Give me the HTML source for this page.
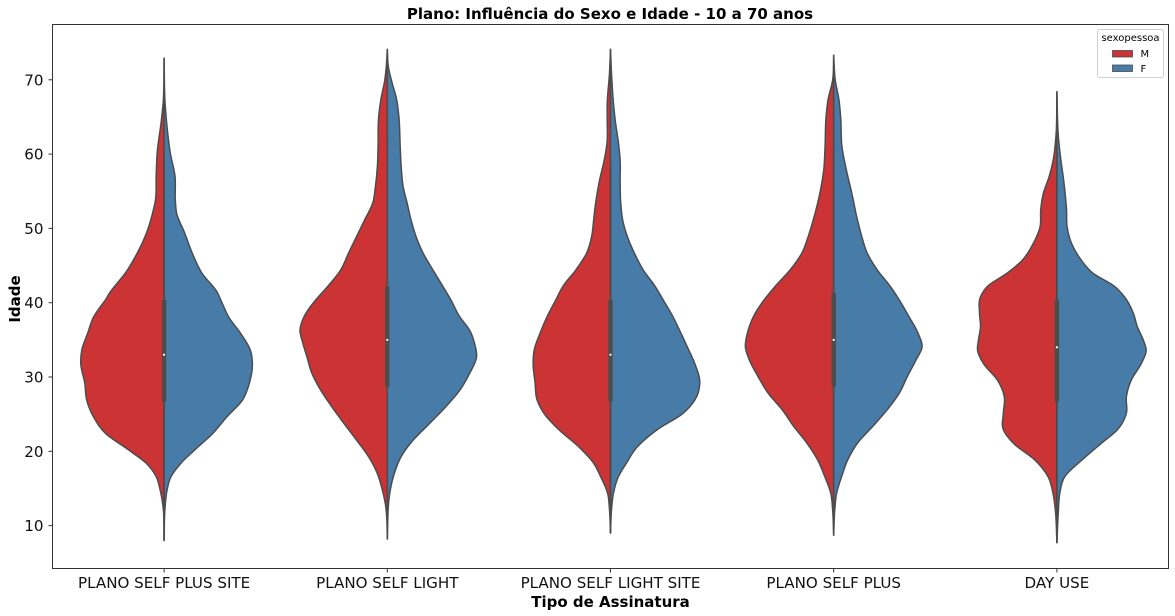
<!DOCTYPE html>
<html lang="pt">
<head>
<meta charset="utf-8">
<title>Plano: Influência do Sexo e Idade - 10 a 70 anos</title>
<style>
html,body{margin:0;padding:0;background:#fff;}
body{width:1175px;height:616px;overflow:hidden;}
svg{display:block;font-family:"DejaVu Sans","Liberation Sans",sans-serif;}
</style>
</head>
<body>
<svg id="chart" width="1175" height="616" viewBox="0 0 1175 616" xmlns="http://www.w3.org/2000/svg">
<rect x="0" y="0" width="1175" height="616" fill="#fff"/>
<g id="violins"></g>
<g id="axes"></g>
<text x="610" y="19" text-anchor="middle" font-size="15" font-weight="700" fill="#000">Plano: Influência do Sexo e Idade - 10 a 70 anos</text>
<text x="610.5" y="607" text-anchor="middle" font-size="15" font-weight="700" fill="#000">Tipo de Assinatura</text>
<text x="20" y="299" text-anchor="middle" font-size="15" font-weight="700" fill="#000" transform="rotate(-90 20 299)">Idade</text>
<g>
<rect x="1097.5" y="29.5" width="66" height="48" rx="2" fill="#fff" fill-opacity="0.8" stroke="#d0d0d0" stroke-width="1"/>
<text x="1130.5" y="41" text-anchor="middle" font-size="10" fill="#000">sexopessoa</text>
<g>
<rect x="1112.5" y="50.5" width="20" height="6.5" fill="#cb3335" stroke="#4c4c4c" stroke-width="0.8"/>
<text x="1140.5" y="57" font-size="10" fill="#000">M</text>
</g>
<g>
<rect x="1112.5" y="65" width="20" height="6.5" fill="#477ca8" stroke="#4c4c4c" stroke-width="0.8"/>
<text x="1140.5" y="72" font-size="10" fill="#000">F</text>
</g>
</g>
</svg>
<script>
const categories = ["PLANO SELF PLUS SITE", "PLANO SELF LIGHT", "PLANO SELF LIGHT SITE", "PLANO SELF PLUS", "DAY USE"];
const yTickLabels = [10, 20, 30, 40, 50, 60, 70];

const ages0 = [72.9,66.8,64.6,60.1,57,53.8,52,49.4,46.7,44,41.3,40.4,39.5,38.1,35.9,33.6,31.8,29.2,26.9,24.6,22.4,20.2,18.4,16.6,14.8,12.5,8];
const densityM0 = [0,1,2.7,7,8,8.7,11.7,17.7,27,39,55,59,64,71,77,83,84,80,78,71,59,36,18,8,4,1,0];
const densityF0 = [0,1,2.3,6.3,11,11.3,12.7,20.7,28.3,38,54,57,60,65,77,87,89,86,79,63,49,31,17,7,3,1,0];

const ages1 = [74.1,71.8,70,67.3,65,61,58.3,55.6,53.4,51.1,48.9,46.7,44.4,42.2,40.4,38.1,36.3,34.5,32.7,30.5,28.2,26,23.8,21.5,19.3,17,14.8,12.5,10.9,8.2];
const densityM1 = [0,1,2.5,6.5,8.7,9.3,10,12,14.7,23,31,39,47,60,72,84,88,85,81,76,67,56,44,31,19,10,5,1.5,0.5,0];
const densityF1 = [0,1,4,9.5,11.7,13,14,16,20,24,29,36,46,56,64,73,83,88,90,83,73,59,43,26,14,7,3,1,0.5,0];

const ages2 = [74.1,70.9,66.8,64.6,61.5,59.2,56.5,53.4,51.1,48.9,46.7,44.4,42.2,40.4,38.1,35.9,33.6,31.8,29.2,26.9,25.1,22.9,20.6,18.4,16.6,14.4,12.1,9];
const densityM2 = [0,1,3.3,3.3,3.5,6.3,11,15,17,19,24,35,48,55,64,71,77,78,76,74,67,52,32,17,10,3,1,0];
const densityF2 = [0,1,3,4.7,8,9.7,9.7,10.3,12.3,17,24,33,45,53,63,71,79,85,90,85,73,47,27,16,8,3,1,0];

const ages3 = [73.3,70,67.3,65,61,57.9,54.7,51.1,48.9,46.7,44.4,42.2,40.4,38.1,35.9,34,32.3,30,27.8,25.6,23.3,21.1,18.8,16.6,14.4,12,8.7];
const densityM3 = [0,1,5.7,7.7,8.7,10,14,20.7,25.7,32,44,59,70,81,87,89,85,76,66,52,40,27,16,9,3,1,0];
const densityF3 = [0,1.5,5.3,7,8.3,12.7,18.3,24,28.3,33.7,44,57,66,76,85,89,83,74,66,54,39,24,14,8,3,1,0];

const ages4 = [68.4,62.3,59.2,57,54.7,52.5,50.2,48,45.7,44,42.2,40.8,38.6,36.8,35,33.6,31.8,29.6,27.3,25.1,22.9,21.1,18.8,16.6,14.4,12,7.7];
const densityM4 = [0,1,3.7,7.7,13.7,16.3,17,23.7,35,50,70,77,78,77,79,80,74,60,53,54,54,44,22,9,4,1.5,0];
const densityF4 = [0,1.5,4,6.3,8.3,9.7,10.3,14.7,24.7,36,58,68,77,81,87,90,85,75,70,70,61,45,25,8,3,1.5,0];

const q1Values = [26.7, 28.7, 26.7, 28.7, 26.7];
const q3Values = [40.4, 42.2, 40.4, 41.3, 40.4];
const medianValues = [33, 35, 33, 35, 34];
const whiskerLow = [8, 8.2, 9, 8.7, 7.7];
const whiskerHigh = [60, 62, 59, 61, 60];

const agesBySeries = [ages0, ages1, ages2, ages3, ages4];
const densityM = [densityM0, densityM1, densityM2, densityM3, densityM4];
const densityF = [densityF0, densityF1, densityF2, densityF3, densityF4];

const NS = "http://www.w3.org/2000/svg";
const plot = {left: 52.5, right: 1168.5, top: 24.5, bottom: 568.5};
const ink = "#4c4c4c";

function xScale(i) {
  const band = (plot.right - plot.left) / categories.length;
  return plot.left + band * (i + 0.5);
}
function yScale(age) {
  return 525.6 - (age - 10) * 7.43;
}
function widthScale(d) {
  const band = (plot.right - plot.left) / categories.length;
  return d / 90 * 0.4 * band;
}
/* Hermite spline of x as a function of y, with spacing-aware tangents */
function smooth(pts) {
  const n = pts.length;
  const h = [];
  const d = [];
  for (let i = 0; i < n - 1; i++) {
    h.push(pts[i + 1][1] - pts[i][1]);
    d.push((pts[i + 1][0] - pts[i][0]) / h[i]);
  }
  const m = [];
  for (let i = 0; i < n; i++) {
    if (i === 0) { m.push(d[0]); }
    else if (i === n - 1) { m.push(d[n - 2]); }
    else { m.push((h[i] * d[i - 1] + h[i - 1] * d[i]) / (h[i - 1] + h[i])); }
  }
  let s = "M" + pts[0][0].toFixed(2) + " " + pts[0][1].toFixed(2);
  for (let i = 0; i < n - 1; i++) {
    const c1x = pts[i][0] + m[i] * h[i] / 3;
    const c1y = pts[i][1] + h[i] / 3;
    const c2x = pts[i + 1][0] - m[i + 1] * h[i] / 3;
    const c2y = pts[i + 1][1] - h[i] / 3;
    s += "C" + c1x.toFixed(2) + " " + c1y.toFixed(2) + " " + c2x.toFixed(2) + " " + c2y.toFixed(2) + " " + pts[i + 1][0].toFixed(2) + " " + pts[i + 1][1].toFixed(2);
  }
  return s;
}

const violinLayer = document.getElementById("violins");
const axesLayer = document.getElementById("axes");

categories.forEach(function (cat, i) {
  const cx = xScale(i);
  const ages = agesBySeries[i];
  const slug = cat.toLowerCase().replace(/ /g, "-");

  const group = document.createElementNS(NS, "g");
  
  
  violinLayer.appendChild(group);

  const halfM = document.createElementNS(NS, "path");
  
  
  halfM.setAttribute("d", smooth(ages.map(function (a, k) { return [cx - widthScale(densityM[i][k]), yScale(a)]; })) + "Z");
  halfM.setAttribute("fill", "#cb3335");
  halfM.setAttribute("stroke", ink);
  halfM.setAttribute("stroke-width", "1.5");
  halfM.setAttribute("stroke-linejoin", "round");
  group.appendChild(halfM);

  const halfF = document.createElementNS(NS, "path");
  
  
  halfF.setAttribute("d", smooth(ages.map(function (a, k) { return [cx + widthScale(densityF[i][k]), yScale(a)]; })) + "Z");
  halfF.setAttribute("fill", "#477ca8");
  halfF.setAttribute("stroke", ink);
  halfF.setAttribute("stroke-width", "1.5");
  halfF.setAttribute("stroke-linejoin", "round");
  group.appendChild(halfF);

  const whisker = document.createElementNS(NS, "line");
  
  
  whisker.setAttribute("x1", cx);
  whisker.setAttribute("x2", cx);
  whisker.setAttribute("y1", yScale(whiskerHigh[i]));
  whisker.setAttribute("y2", yScale(whiskerLow[i]));
  whisker.setAttribute("stroke", ink);
  whisker.setAttribute("stroke-width", "1.6");
  group.appendChild(whisker);

  const box = document.createElementNS(NS, "line");
  
  
  box.setAttribute("x1", cx);
  box.setAttribute("x2", cx);
  box.setAttribute("y1", yScale(q3Values[i]));
  box.setAttribute("y2", yScale(q1Values[i]));
  box.setAttribute("stroke", ink);
  box.setAttribute("stroke-width", "4.4");
  group.appendChild(box);

  const median = document.createElementNS(NS, "circle");
  
  
  median.setAttribute("cx", cx);
  median.setAttribute("cy", yScale(medianValues[i]));
  median.setAttribute("r", "1.1");
  median.setAttribute("fill", "#fff");
  group.appendChild(median);

  const tick = document.createElementNS(NS, "line");
  
  
  tick.setAttribute("x1", cx);
  tick.setAttribute("x2", cx);
  tick.setAttribute("y1", plot.bottom);
  tick.setAttribute("y2", plot.bottom + 4);
  tick.setAttribute("stroke", "#333");
  tick.setAttribute("stroke-width", "1");
  axesLayer.appendChild(tick);

  const label = document.createElementNS(NS, "text");
  
  
  label.setAttribute("x", cx);
  label.setAttribute("y", 588);
  label.setAttribute("text-anchor", "middle");
  label.setAttribute("font-size", "15.1");
  label.setAttribute("fill", "#111");
  label.textContent = cat;
  axesLayer.appendChild(label);
});

yTickLabels.forEach(function (v) {
  const y = yScale(v);
  const tick = document.createElementNS(NS, "line");
  
  
  tick.setAttribute("x1", plot.left - 4);
  tick.setAttribute("x2", plot.left);
  tick.setAttribute("y1", y);
  tick.setAttribute("y2", y);
  tick.setAttribute("stroke", "#333");
  tick.setAttribute("stroke-width", "1");
  axesLayer.appendChild(tick);

  const label = document.createElementNS(NS, "text");
  
  
  label.setAttribute("x", 43.5);
  label.setAttribute("y", y + 5.5);
  label.setAttribute("text-anchor", "end");
  label.setAttribute("font-size", "15.1");
  label.setAttribute("fill", "#111");
  label.textContent = v;
  axesLayer.appendChild(label);
});

const frame = document.createElementNS(NS, "rect");


frame.setAttribute("x", plot.left);
frame.setAttribute("y", plot.top);
frame.setAttribute("width", plot.right - plot.left);
frame.setAttribute("height", plot.bottom - plot.top);
frame.setAttribute("fill", "none");
frame.setAttribute("stroke", "#333");
frame.setAttribute("stroke-width", "1");
axesLayer.appendChild(frame);
</script>
</body>
</html>
